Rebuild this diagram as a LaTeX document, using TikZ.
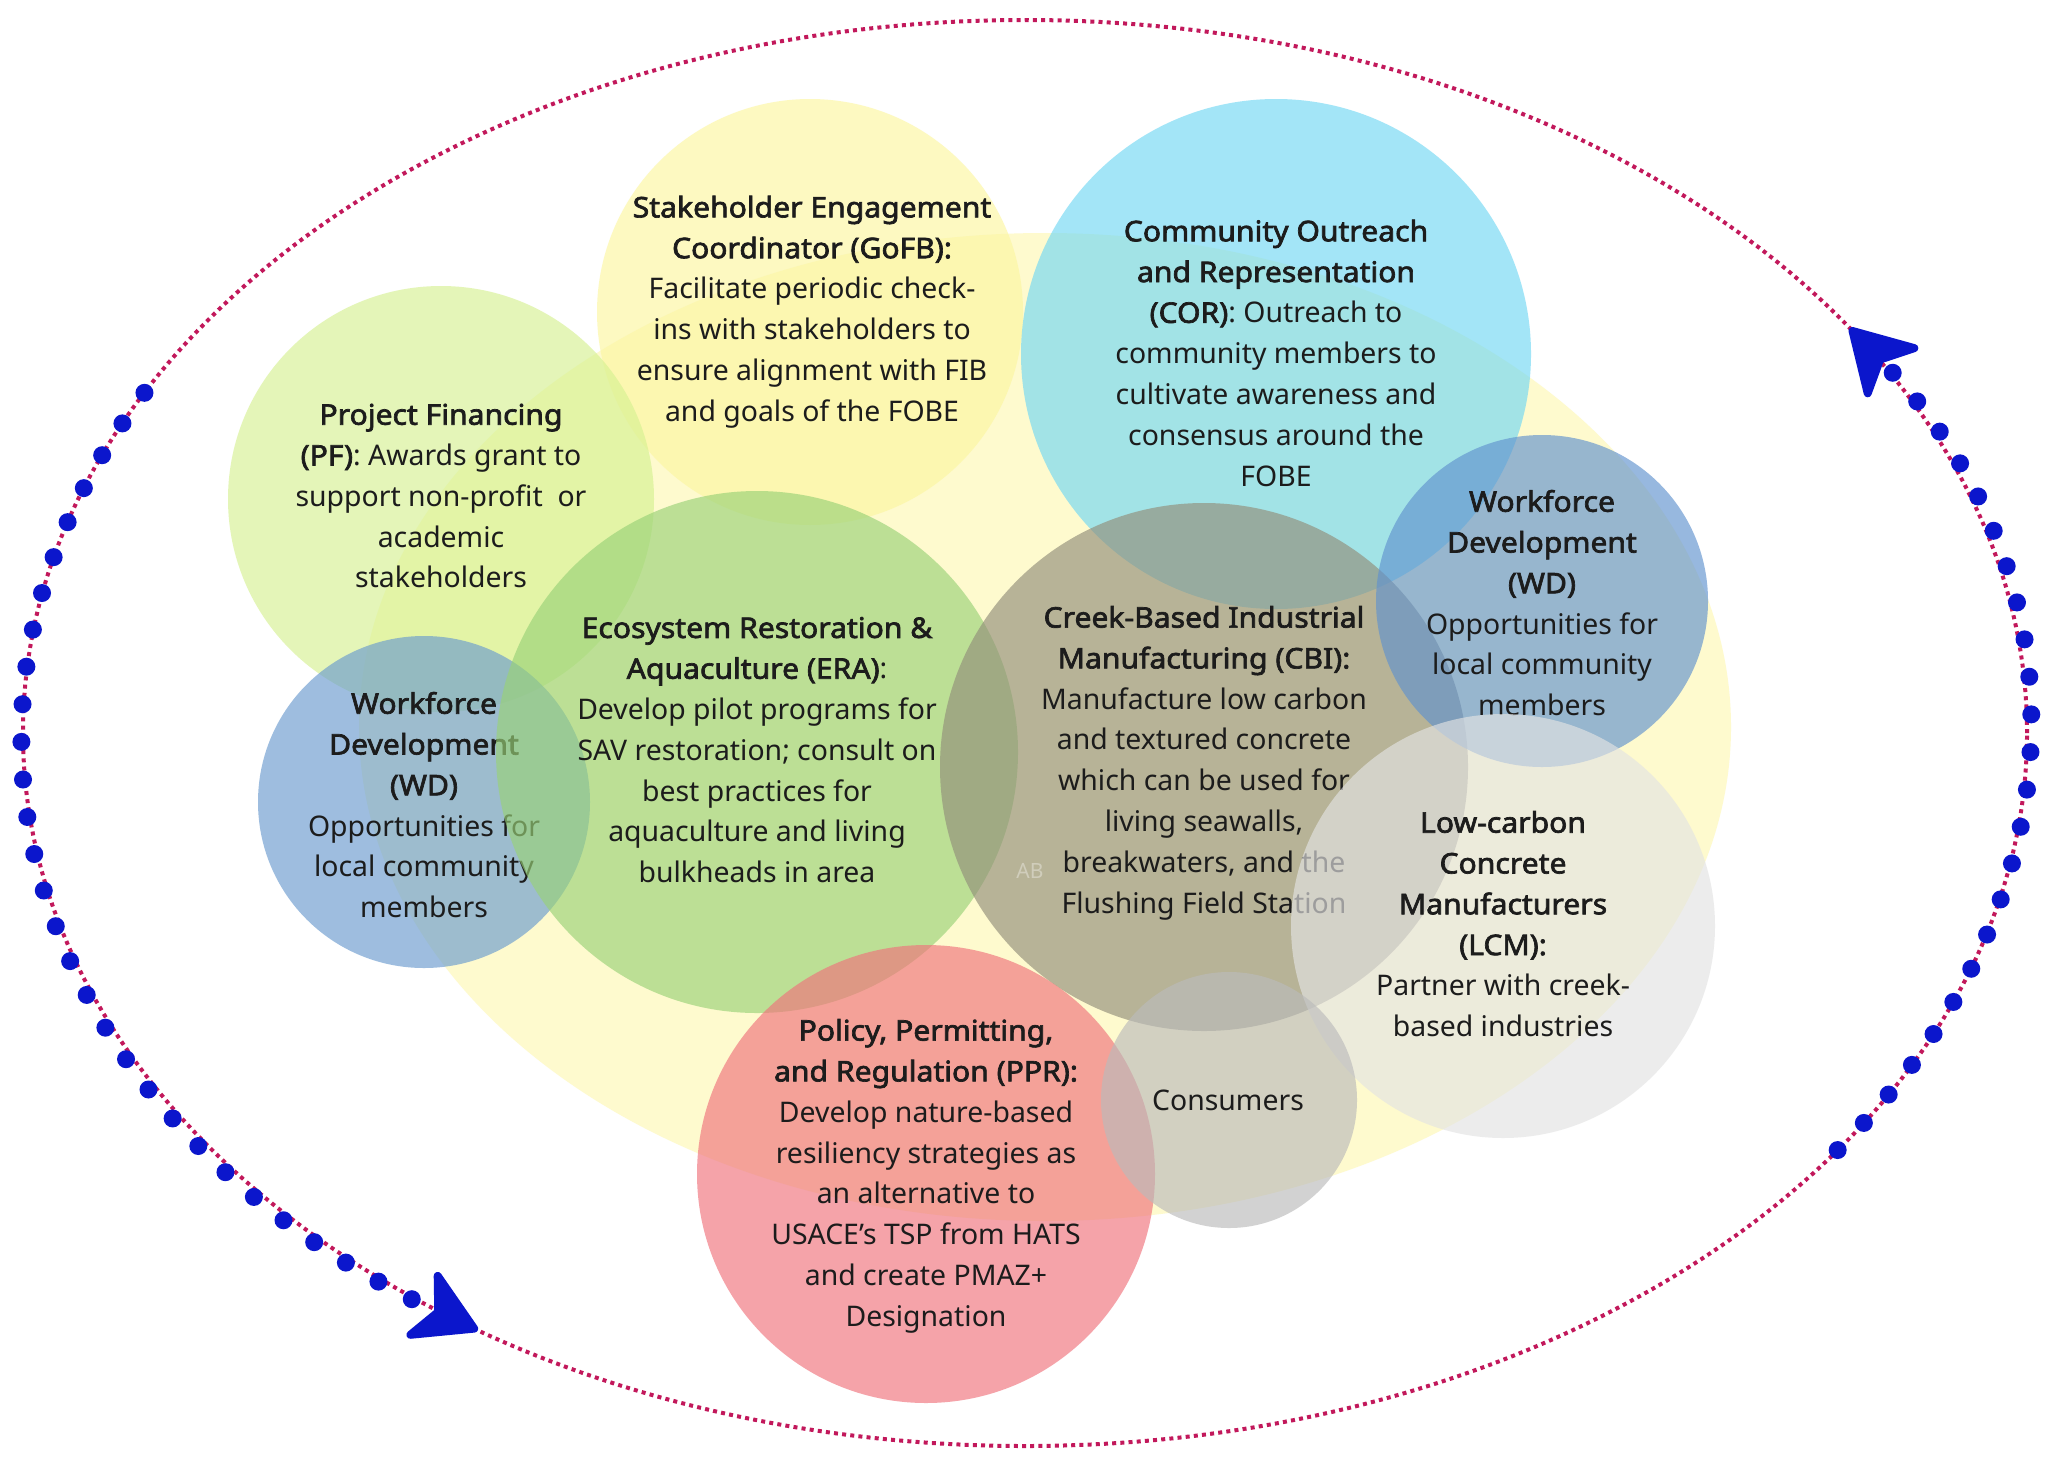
\documentclass[tikz,border=0pt]{standalone}
\usepackage{fontspec}
\setmainfont{Noto Sans}[BoldFont={Noto Sans}, BoldFeatures={FakeBold=2.4,FakeStretch=1.06}]
\usetikzlibrary{arrows.meta}
\definecolor{txt}{HTML}{1C1C1C}
\definecolor{blobC}{HTML}{FEFACE}
\definecolor{stakeC}{HTML}{FCF6A1}
\definecolor{corC}{HTML}{72D8F4}
\definecolor{pfC}{HTML}{D6F192}
\definecolor{wdlC}{HTML}{6A9BCF}
\definecolor{eraC}{HTML}{99D277}
\definecolor{cbiC}{HTML}{928E7A}
\definecolor{wdrC}{HTML}{6092CE}
\definecolor{lcmC}{HTML}{E3E3E3}
\definecolor{pprC}{HTML}{F0727C}
\definecolor{conC}{HTML}{BBBBBB}
\definecolor{ringC}{HTML}{C2185B}
\definecolor{flowC}{HTML}{0B16CC}
\begin{document}
\begin{tikzpicture}[x=0.5pt,y=-0.5pt,
  bubble/.style={fill=#1, fill opacity=0.65},
  lbl/.style={align=center, inner sep=0pt, text=txt, font=\fontsize{14.2}{20.4}\selectfont},
  ring/.style={draw=ringC, line width=2pt, dash pattern=on 2pt off 2.1pt},
  flow/.style={draw=flowC, line width=9pt, line cap=round, dash pattern=on 0pt off 18.85pt,
    -{Stealth[length=36pt,width=42pt,inset=10pt,round,line width=4pt]}}]
\useasboundingbox (0,0) rectangle (2048,1472);
\fill[white] (0,0) rectangle (2048,1472);

% background blob
\coordinate (blobc) at (1045,727);
\fill[blobC] (blobc) ellipse [x radius=343pt, y radius=247pt];

% Stakeholder engagement
\fill[bubble=stakeC] (810,312) circle [radius=106.5pt];
\node[lbl] (gofb) at (812,312) {\textbf{Stakeholder Engagement}\\\textbf{Coordinator (GoFB):}\\Facilitate periodic check-\\ins with stakeholders to\\ensure alignment with FIB\\and goals of the FOBE};

% Community outreach
\fill[bubble=corC] (1276,354) circle [radius=127.5pt];
\node[lbl] (cor) at (1276,353) {\textbf{Community Outreach}\\\textbf{and Representation}\\\textbf{(COR)}: Outreach to\\community members to\\cultivate awareness and\\consensus around the\\FOBE};

% Project financing
\fill[bubble=pfC] (441,499) circle [radius=106.5pt];
\node[lbl] (pf) at (441,496) {\textbf{Project Financing}\\\textbf{(PF)}: Awards grant to\\support non-profit~ or\\academic\\stakeholders};

% Workforce development (left)
\fill[bubble=wdlC] (424,802) circle [radius=83pt];
\node[lbl] (wdl) at (424,805) {\textbf{Workforce}\\\textbf{Development}\\\textbf{(WD)}\\Opportunities for\\local community\\members};

% Ecosystem restoration
\fill[bubble=eraC] (757,752) circle [radius=130.5pt];
\node[lbl] (era) at (757,750) {\textbf{Ecosystem Restoration \&}\\\textbf{Aquaculture (ERA)}:\\Develop pilot programs for\\SAV restoration; consult on\\best practices for\\aquaculture and living\\bulkheads in area};

% Creek-based industrial
\fill[bubble=cbiC] (1204,767) circle [radius=132pt];
\node[lbl] (cbi) at (1204,763) {\textbf{Creek-Based Industrial}\\\textbf{Manufacturing (CBI):}\\Manufacture low carbon\\and textured concrete\\which can be used for\\living seawalls,\\breakwaters, and the\\Flushing Field Station};
\node[inner sep=0pt, text=white, text opacity=0.35, font=\fontsize{10.5}{12}\selectfont] (ab) at (1030,871) {AB};

% Workforce development (right)
\fill[bubble=wdrC] (1542,601) circle [radius=83pt];
\node[lbl] (wdr) at (1542,603) {\textbf{Workforce}\\\textbf{Development}\\\textbf{(WD)}\\Opportunities for\\local community\\members};

% Low-carbon concrete
\fill[bubble=lcmC] (1503,926) circle [radius=106pt];
\node[lbl] (lcm) at (1503,924) {\textbf{Low-carbon}\\\textbf{Concrete}\\\textbf{Manufacturers}\\\textbf{(LCM):}\\Partner with creek-\\based industries};

% Policy
\fill[bubble=pprC] (926,1174) circle [radius=114.5pt];
\node[lbl] (ppr) at (926,1176) {\textbf{Policy, Permitting,}\\\textbf{and Regulation (PPR):}\\Develop nature-based\\resiliency strategies as\\an alternative to\\USACE's TSP from HATS\\and create PMAZ+\\Designation};

% Consumers
\fill[bubble=conC] (1229,1100) circle [radius=64pt];
\node[lbl] (con) at (1228,1100) {Consumers};

% outer cycle
\coordinate (rc) at (1025,733);
\draw[ring] (rc) ellipse [x radius=501pt, y radius=356.5pt];
\path (rc) ++(151.5:501pt and 356.5pt) coordinate (lstart);
\path (rc) ++(-35.8:501pt and 356.5pt) coordinate (rstart);
\draw[flow] (lstart) arc[start angle=151.5, end angle=236.9, x radius=501pt, y radius=356.5pt];
\draw[flow] (rstart) arc[start angle=-35.8, end angle=34.6, x radius=501pt, y radius=356.5pt];
\end{tikzpicture}
\end{document}
